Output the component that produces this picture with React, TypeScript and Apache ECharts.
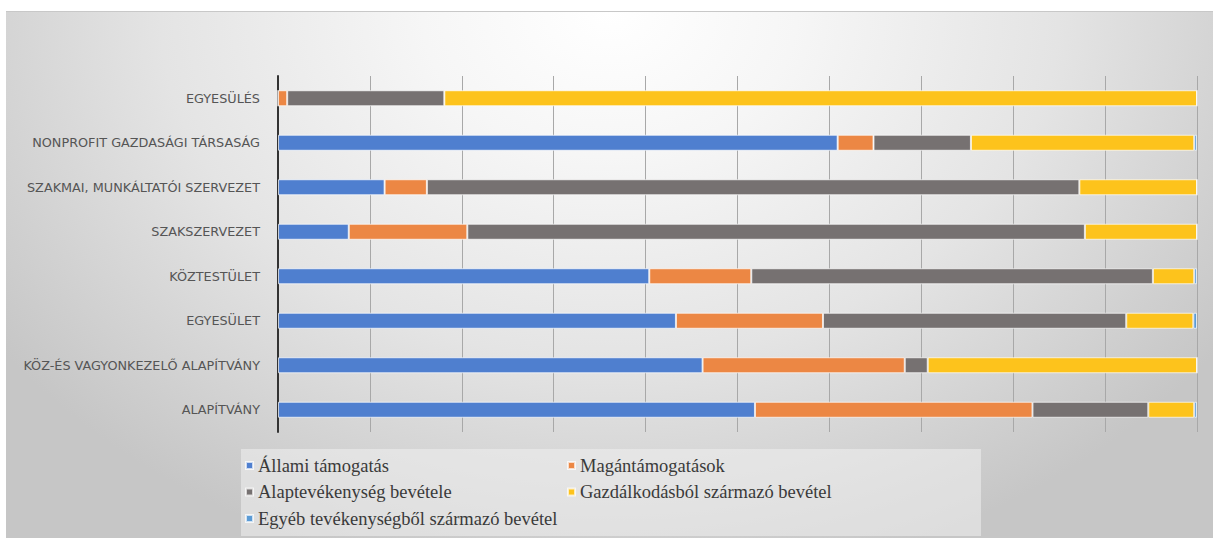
import React, { useEffect, useRef } from "react";
import * as echarts from "echarts";

const categories = [
  "EGYESÜLÉS",
  "NONPROFIT GAZDASÁGI TÁRSASÁG",
  "SZAKMAI, MUNKÁLTATÓI SZERVEZET",
  "SZAKSZERVEZET",
  "KÖZTESTÜLET",
  "EGYESÜLET",
  "KÖZ-ÉS VAGYONKEZELŐ ALAPÍTVÁNY",
  "ALAPÍTVÁNY",
];

const seriesNames = [
  "Állami támogatás",
  "Magántámogatások",
  "Alaptevékenység bevétele",
  "Gazdálkodásból származó bevétel",
  "Egyéb tevékenységből származó bevétel",
];

const allami = [0, 60.9, 11.6, 7.7, 40.4, 43.3, 46.2, 51.9];
const magan = [1.0, 3.9, 4.6, 12.9, 11.1, 16.0, 22.0, 30.2];
const alap = [17.1, 10.6, 71.0, 67.2, 43.7, 33.0, 2.5, 12.6];
const gazd = [81.9, 24.3, 12.8, 12.2, 4.5, 7.3, 29.3, 5.0];
const egyeb = [0, 0.3, 0, 0, 0.3, 0.4, 0, 0.3];

const colors = ["#4f7fcf", "#ec8744", "#767171", "#fdc31c", "#5b9bd5"];

export default function App() {
  const ref = useRef<HTMLDivElement>(null);
  useEffect(() => {
    document.body.style.margin = "0";
    if (!ref.current) return;
    const chart = echarts.init(ref.current, null, { renderer: "svg" });
    const values = [allami, magan, alap, gazd, egyeb];
    const legendText = {
      fontFamily: "Liberation Serif",
      fontSize: 18.5,
      color: "#3a3a3a",
    };
    chart.setOption({
      animation: false,
      backgroundColor: "transparent",
      graphic: [
        {
          type: "rect",
          left: 241,
          top: 449,
          shape: { width: 740, height: 87 },
          style: { fill: "rgba(240,240,240,0.55)" },
          z: -10,
        },
      ],
      grid: { left: 278, right: 16, top: 76, bottom: 106 },
      xAxis: {
        type: "value",
        min: 0,
        max: 100,
        interval: 10,
        axisLabel: { show: false },
        axisLine: { show: false },
        axisTick: { show: false },
        splitLine: { lineStyle: { color: "#a8a8a8", width: 1 } },
      },
      yAxis: {
        type: "category",
        inverse: true,
        data: categories,
        axisTick: { show: false },
        axisLine: { lineStyle: { color: "#333333", width: 2 } },
        axisLabel: {
          margin: 18,
          fontFamily: "DejaVu Sans",
          fontSize: 12.8,
          color: "#555555",
        },
      },
      legend: [
        {
          orient: "vertical",
          left: 240,
          top: 451,
          itemWidth: 7,
          itemHeight: 7,
          itemGap: 7.5,
          icon: "rect",
          data: [seriesNames[0], seriesNames[2], seriesNames[4]],
          textStyle: legendText,
        },
        {
          orient: "vertical",
          left: 562,
          top: 451,
          itemWidth: 7,
          itemHeight: 7,
          itemGap: 7.5,
          icon: "rect",
          data: [seriesNames[1], seriesNames[3]],
          textStyle: legendText,
        },
      ],
      series: seriesNames.map((name, i) => ({
        name,
        type: "bar",
        stack: "total",
        barWidth: 16,
        data: values[i],
        itemStyle: {
          color: colors[i],
          borderColor: "rgba(255,255,255,0.7)",
          borderWidth: 1,
        },
      })),
    });
    return () => chart.dispose();
  }, []);

  return (
    <div style={{ position: "relative", width: 1213, height: 538, background: "#ffffff" }}>
      <div
        style={{
          position: "absolute",
          left: 6,
          top: 11,
          width: 1207,
          height: 527,
          borderTop: "1px solid #c8c8c8",
          background:
            "radial-gradient(ellipse 62% 110% at 50% 0%, #ffffff 0%, #f6f6f6 25%, #e4e4e4 60%, #c6c6c6 100%)",
        }}
      />
      <div ref={ref} style={{ position: "absolute", left: 0, top: 0, width: 1213, height: 538 }} />
    </div>
  );
}
